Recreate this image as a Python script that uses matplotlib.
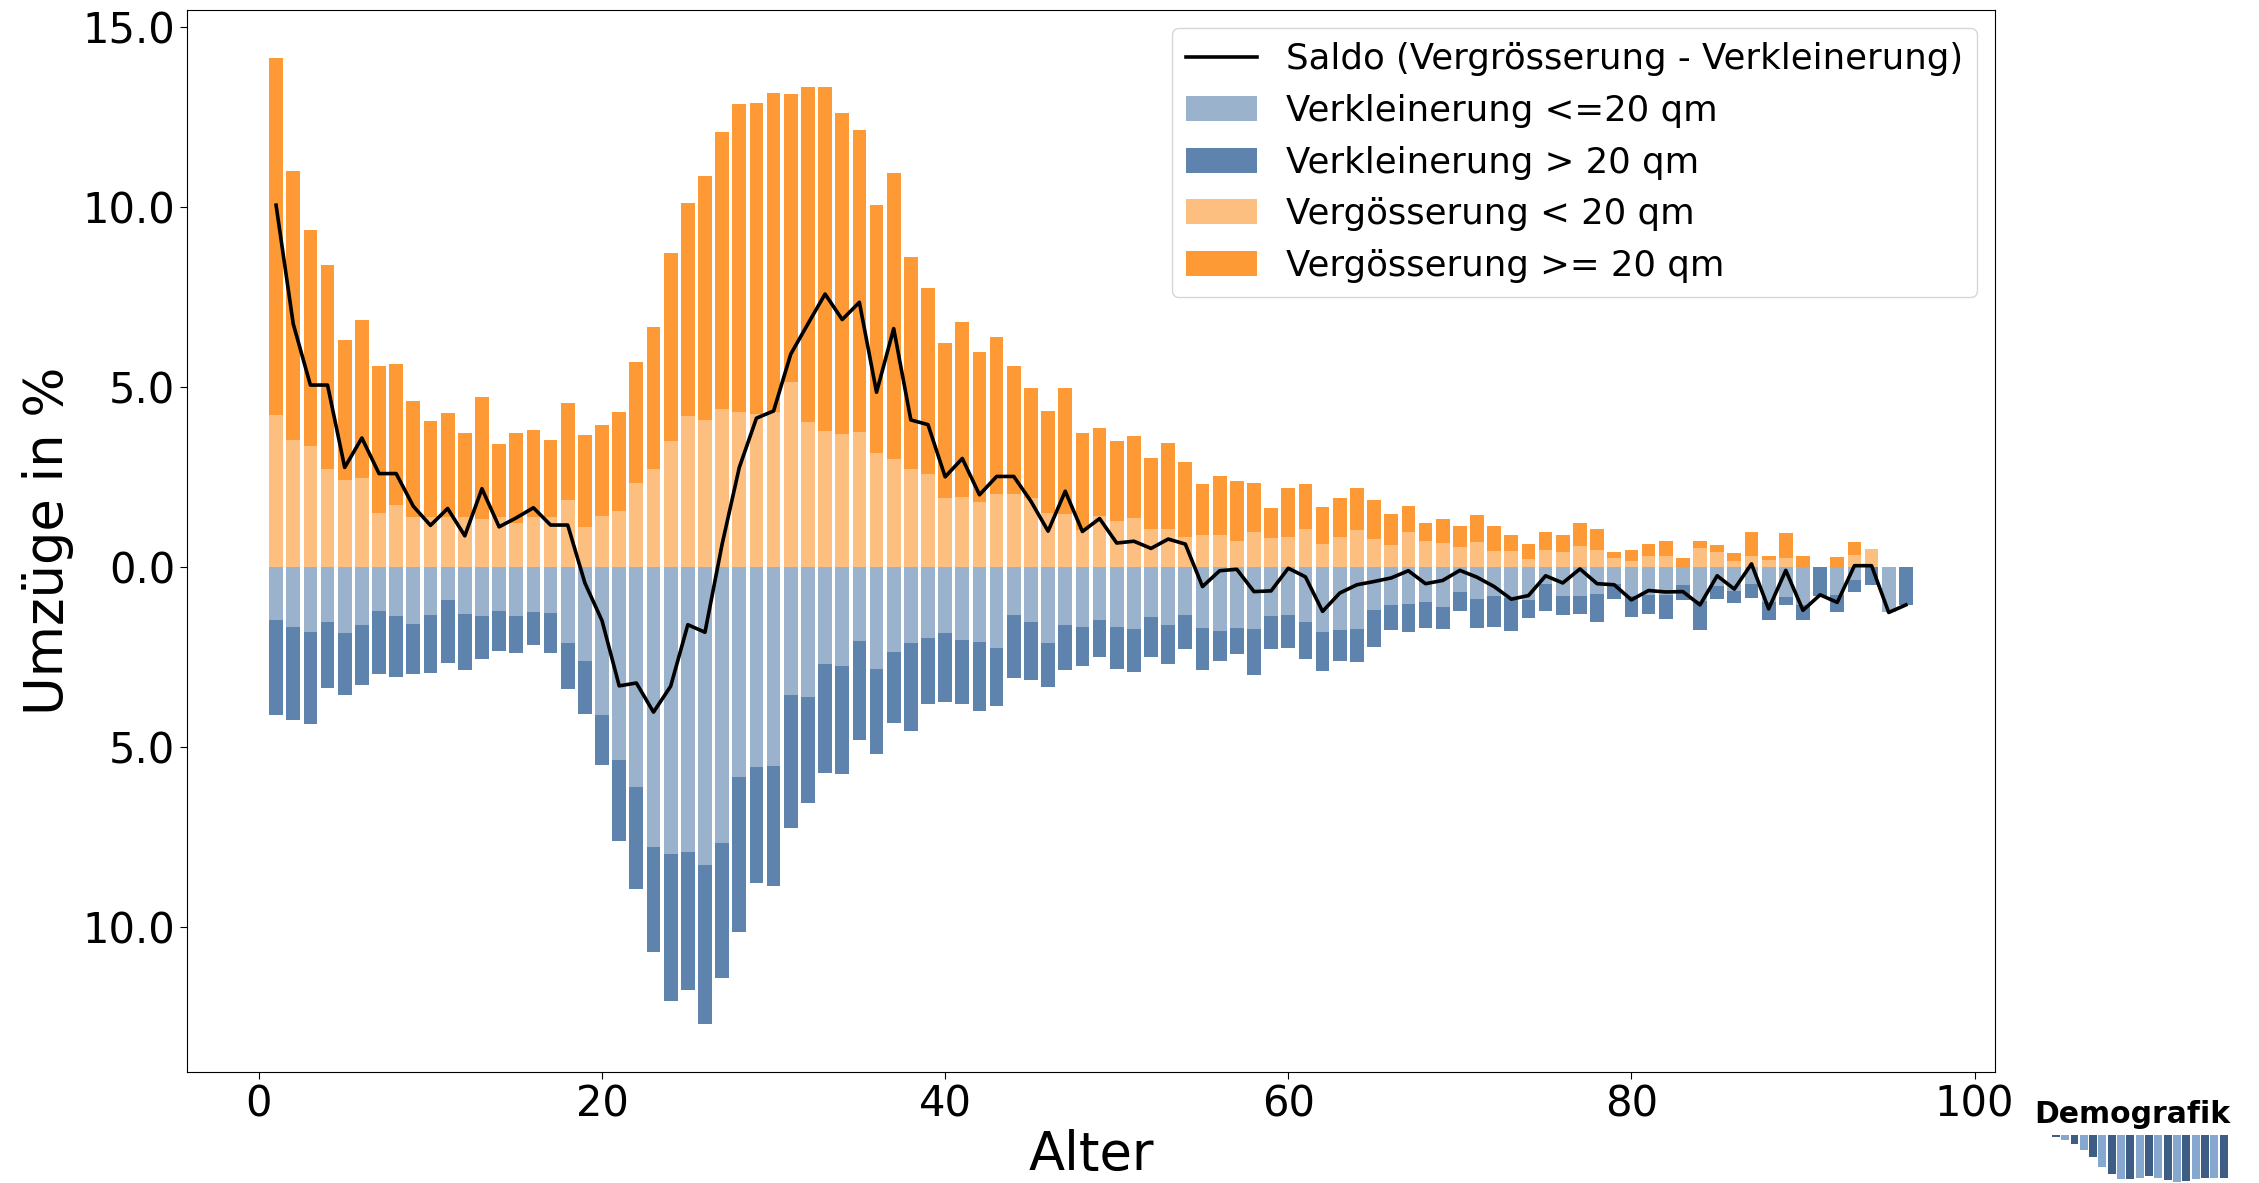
import numpy as np
import matplotlib
matplotlib.use('Agg')
import matplotlib.pyplot as plt
from matplotlib.ticker import FuncFormatter

# Alter 1..96
alter = np.arange(1, 97)

# Vergroesserung (positiv), Anteile in %
verg_klein = [4.22, 3.51, 3.36, 2.72, 2.40, 2.47, 1.50, 1.72, 1.39, 1.39,
              1.39, 1.39, 1.34, 1.39, 1.21, 1.39, 1.39, 1.85, 1.11, 1.40,
              1.55, 2.32, 2.72, 3.49, 4.18, 4.08, 4.38, 4.30, 4.24, 4.30,
              5.14, 4.03, 3.77, 3.70, 3.75, 3.17, 3.00, 2.73, 2.57, 1.91,
              1.95, 1.80, 2.03, 2.03, 1.90, 1.50, 1.47, 1.01, 1.41, 1.26,
              1.36, 1.04, 1.06, 0.84, 0.87, 0.89, 0.71, 0.96, 0.80, 0.83,
              1.06, 0.63, 0.84, 1.01, 0.77, 0.61, 0.97, 0.72, 0.66, 0.54,
              0.69, 0.44, 0.45, 0.21, 0.47, 0.42, 0.58, 0.47, 0.23, 0.17,
              0.29, 0.31, 0.00, 0.53, 0.42, 0.16, 0.31, 0.20, 0.24, 0.00,
              0.00, 0.00, 0.34, 0.50, 0.00, 0.00]
verg_gross = [9.91, 7.48, 6.01, 5.68, 3.91, 4.40, 4.08, 3.92, 3.22, 2.66,
              2.89, 2.33, 3.38, 2.03, 2.51, 2.40, 2.13, 2.69, 2.54, 2.54,
              2.75, 3.38, 3.94, 5.24, 5.94, 6.78, 7.69, 8.56, 8.65, 8.87,
              7.99, 9.30, 9.55, 8.91, 8.40, 6.88, 7.94, 5.89, 5.17, 4.32,
              4.84, 4.18, 4.35, 3.56, 3.07, 2.82, 3.49, 2.72, 2.44, 2.23,
              2.28, 1.98, 2.39, 2.07, 1.44, 1.64, 1.66, 1.37, 0.84, 1.37,
              1.24, 1.02, 1.06, 1.17, 1.08, 0.86, 0.71, 0.49, 0.68, 0.60,
              0.74, 0.69, 0.43, 0.41, 0.50, 0.46, 0.65, 0.59, 0.17, 0.31,
              0.33, 0.42, 0.23, 0.18, 0.18, 0.22, 0.65, 0.11, 0.71, 0.30,
              0.00, 0.26, 0.35, 0.00, 0.00, 0.00]

# Verkleinerung (wird nach unten abgetragen)
verk_klein = [1.47, 1.68, 1.82, 1.53, 1.84, 1.62, 1.23, 1.38, 1.58, 1.34,
              0.93, 1.31, 1.38, 1.22, 1.37, 1.25, 1.28, 2.12, 2.63, 4.13,
              5.38, 6.13, 7.79, 7.98, 7.94, 8.28, 7.69, 5.85, 5.57, 5.54,
              3.56, 3.62, 2.71, 2.76, 2.06, 2.83, 2.37, 2.11, 1.99, 1.84,
              2.04, 2.09, 2.26, 1.34, 1.53, 2.11, 1.62, 1.66, 1.47, 1.67,
              1.74, 1.40, 1.62, 1.33, 1.70, 1.78, 1.69, 1.72, 1.38, 1.33,
              1.54, 1.81, 1.75, 1.72, 1.21, 1.07, 1.04, 0.99, 1.13, 0.70,
              0.89, 0.81, 0.87, 0.92, 0.47, 0.82, 0.81, 0.75, 0.47, 0.81,
              0.78, 0.78, 0.52, 0.96, 0.53, 0.66, 0.48, 0.99, 0.84, 1.06,
              0.00, 0.78, 0.36, 0.00, 1.27, 0.00]
verk_gross = [2.64, 2.58, 2.54, 1.83, 1.73, 1.66, 1.76, 1.67, 1.39, 1.60,
              1.75, 1.56, 1.18, 1.11, 1.03, 0.92, 1.12, 1.27, 1.47, 1.37,
              2.24, 2.83, 2.92, 4.08, 3.82, 4.42, 3.75, 4.31, 3.22, 3.34,
              3.70, 2.94, 3.02, 3.00, 2.75, 2.37, 1.97, 2.46, 1.82, 1.93,
              1.77, 1.91, 1.62, 1.76, 1.62, 1.24, 1.24, 1.11, 1.04, 1.16,
              1.19, 1.11, 1.07, 0.96, 1.16, 0.85, 0.74, 1.30, 0.91, 0.92,
              1.02, 1.08, 0.88, 0.94, 1.03, 0.70, 0.76, 0.70, 0.59, 0.54,
              0.81, 0.87, 0.91, 0.51, 0.75, 0.51, 0.50, 0.79, 0.43, 0.58,
              0.53, 0.67, 0.40, 0.81, 0.36, 0.35, 0.39, 0.48, 0.23, 0.43,
              0.80, 0.49, 0.34, 0.50, 0.00, 1.06]

# Saldo (Vergroesserung - Verkleinerung)
saldo = [10.05, 6.75, 5.05, 5.05, 2.76, 3.58, 2.59, 2.59, 1.68, 1.15,
         1.62, 0.86, 2.17, 1.11, 1.36, 1.64, 1.16, 1.16, -0.45, -1.50,
         -3.31, -3.23, -4.04, -3.32, -1.61, -1.82, 0.63, 2.76, 4.13, 4.33,
         5.91, 6.75, 7.58, 6.87, 7.35, 4.85, 6.62, 4.08, 3.95, 2.50,
         3.01, 2.00, 2.51, 2.51, 1.82, 0.99, 2.10, 0.98, 1.34, 0.66,
         0.71, 0.51, 0.77, 0.63, -0.55, -0.11, -0.07, -0.69, -0.67, -0.04,
         -0.28, -1.24, -0.73, -0.50, -0.41, -0.31, -0.11, -0.47, -0.38, -0.10,
         -0.29, -0.55, -0.90, -0.80, -0.25, -0.45, -0.06, -0.47, -0.50, -0.92,
         -0.66, -0.70, -0.69, -1.06, -0.25, -0.62, 0.08, -1.17, -0.10, -1.21,
         -0.78, -0.99, 0.03, 0.03, -1.27, -1.06]

# Logo-Balken (nur Deko unter dem Schriftzug)
logo_h = [5, 15, 28, 45, 65, 95, 115, 131, 132, 127, 123, 127, 135, 140, 138, 131, 128, 127, 127]

c_verk_klein = '#9ab2cb'
c_verk_gross = '#5e84ae'
c_verg_klein = '#fdbf80'
c_verg_gross = '#fd9a35'

verk_klein = np.array(verk_klein)
verk_gross = np.array(verk_gross)
verg_klein = np.array(verg_klein)
verg_gross = np.array(verg_gross)

fig = plt.figure(figsize=(22.59, 11.83), dpi=100)
ax = fig.add_axes([0.0828, 0.0938, 0.8003, 0.8977])

ax.bar(alter, -verk_klein, color=c_verk_klein, label='Verkleinerung <=20 qm')
ax.bar(alter, -verk_gross, bottom=-verk_klein, color=c_verk_gross, label='Verkleinerung > 20 qm')
ax.bar(alter, verg_klein, color=c_verg_klein, label='Vergösserung < 20 qm')
ax.bar(alter, verg_gross, bottom=verg_klein, color=c_verg_gross, label='Vergösserung >= 20 qm')
ax.plot(alter, saldo, color='black', linewidth=2.6, label='Saldo (Vergrösserung - Verkleinerung)')

ax.set_xticks([0, 20, 40, 60, 80, 100])
ax.yaxis.set_major_formatter(FuncFormatter(lambda v, p: '%.1f' % abs(v)))
ax.tick_params(labelsize=30, length=5)
ax.set_xlabel('Alter', fontsize=38, labelpad=2)
ax.set_ylabel('Umzüge in %', fontsize=38, labelpad=6)
ax.legend(loc='upper right', fontsize=25.6)

# Schriftzug mit kleinen Balken rechts unten
fig.text(0.944, 0.0575, 'Demografik', fontsize=21.5, fontweight='bold', ha='center', va='center')
lax = fig.add_axes([0.908, 0.0008, 0.0784, 0.0397])
farben = ['#3d5d85' if i % 2 == 0 else '#86a8cf' for i in range(len(logo_h))]
lax.bar(np.arange(len(logo_h)), -np.array(logo_h), width=0.85, color=farben)
lax.set_xlim(-0.5, len(logo_h) - 0.5)
lax.set_ylim(-max(logo_h), 0)
lax.axis('off')

fig.savefig('out.png', dpi=100)
